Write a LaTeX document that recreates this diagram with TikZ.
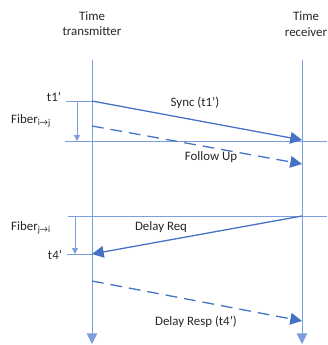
\documentclass[tikz,border=0pt]{standalone}
\usepackage{fontspec}
\setmainfont{Carlito}
\usetikzlibrary{arrows.meta,positioning}
\definecolor{msgblue}{HTML}{4472C4}
\definecolor{lineblue}{HTML}{7C9EDC}
\begin{document}
\begin{tikzpicture}[x=0.03cm,y=-0.03cm,lbl/.style={font=\fontsize{11}{13}\selectfont,text=black!85,inner sep=1pt},
life/.style={lineblue,thick,-{Triangle[width=9pt,length=9pt]}},
tick/.style={lineblue,semithick},span/.style={lineblue,semithick,-{Triangle[width=5pt,length=5pt]}},
msg/.style={msgblue,line width=1.1pt,-{Triangle[width=10pt,length=10pt]}},dmsg/.style={msg,dash pattern=on 10pt off 6pt}]
\useasboundingbox (0,0) rectangle (327,345);
% headers and lifelines
\node[lbl,align=center](tx) at (92,24){Time\\transmitter};
\node[lbl,align=center](rx) at (306,24){Time\\receiver};
\coordinate(txtop) at (92,60);\coordinate(txbot) at (92,344);
\coordinate(rxtop) at (302,60);\coordinate(rxbot) at (302,344);
\draw[life](txtop)--(txbot);\draw[life](rxtop)--(rxbot);
% time marks
\coordinate(t1) at (92,101);\coordinate(t1l) at (66,101);
\coordinate(s1) at (302,140);\coordinate(h1l) at (65,141);\coordinate(h1r) at (327,141);
\coordinate(f0) at (92,126);\coordinate(f1) at (302,164);
\coordinate(d0) at (302,216);\coordinate(h2l) at (68,216);\coordinate(h2r) at (327,216);
\coordinate(t4) at (92,254);\coordinate(t4l) at (67,254);
\coordinate(r0) at (92,281);\coordinate(r1) at (302,321);
\draw[tick](t1l)--(t1);\draw[tick](h1l)--(h1r);\draw[tick](h2l)--(h2r);\draw[tick](t4l)--(t4);
\coordinate(a1) at (77,101);\coordinate(a2) at (77,141);\coordinate(b1) at (75,216);\coordinate(b2) at (75,254);
\draw[span](a1)--(a2);\draw[span](b1)--(b2);
\node[lbl](t1lab) at (54,97){t1’};\node[lbl](t4lab) at (55,255){t4’};
\node[lbl](fij) at (31,121){Fiber\textsubscript{i→j}};
\node[lbl](fji) at (31,228){Fiber\textsubscript{j→i}};
% messages
\draw[msg](t1)--(s1);\draw[dmsg](f0)--(f1);\draw[msg](d0)--(t4);\draw[dmsg](r0)--(r1);
\node[lbl](sync) at (195,103){Sync (t1’)};
\node[lbl](fup) at (211,157){Follow Up};
\node[lbl](dreq) at (161,227){Delay Req};
\node[lbl](dresp) at (196,322){Delay Resp (t4’)};
\end{tikzpicture}
\end{document}
